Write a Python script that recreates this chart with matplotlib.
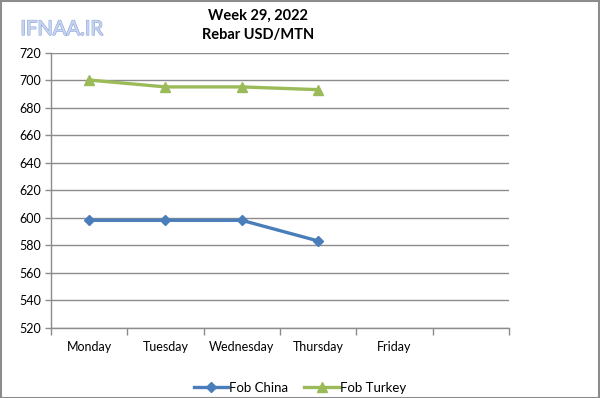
import numpy as np
import matplotlib
matplotlib.use("Agg")
import matplotlib.pyplot as plt
import matplotlib.patheffects as pe

# chart data
days = ["Monday", "Tuesday", "Wednesday", "Thursday", "Friday", ""]
fob_china = [598, 598, 598, 583]
fob_turkey = [700, 695, 695, 693]
y_ticks = list(range(520, 721, 20))

plt.rcParams['font.family'] = ['Lato', 'DejaVu Sans']

fig = plt.figure(figsize=(6, 3.98), dpi=100)
ax = fig.add_axes([0.085, 0.177, 0.763, 0.691])

x = np.arange(len(fob_china))
ax.plot(x, fob_china, color='#4A7EBB', linewidth=2.4, marker='D', markersize=5,
        label='Fob China', zorder=3)
ax.plot(x, fob_turkey, color='#9BBB59', linewidth=2.4, marker='^', markersize=7,
        label='Fob Turkey', zorder=3)

ax.set_xlim(-0.5, len(days) - 0.5)
ax.set_ylim(520, 720)
ax.set_yticks(y_ticks)
ax.set_yticklabels([str(v) for v in y_ticks], fontsize=9)
ax.yaxis.grid(True, color='#8C8C8C', linewidth=1)
ax.set_axisbelow(True)

# category labels centered, tick marks between categories
ax.set_xticks(np.arange(len(days)))
ax.set_xticklabels(days, fontsize=9)
ax.tick_params(axis='x', length=0, pad=10)
ax.set_xticks(np.arange(len(days) + 1) - 0.5, minor=True)
ax.tick_params(axis='x', which='minor', length=5, color='#8C8C8C', width=1)
ax.tick_params(axis='y', length=4, color='#8C8C8C', width=1, pad=3)

for s in ['top', 'right']:
    ax.spines[s].set_visible(False)
for s in ['left', 'bottom']:
    ax.spines[s].set_color('#8C8C8C')
    ax.spines[s].set_linewidth(1)

fig.text(0.43, 0.96, "Week 29, 2022", ha='center', va='center', fontsize=10.5,
         fontweight='bold')
fig.text(0.43, 0.913, "Rebar USD/MTN", ha='center', va='center', fontsize=10.5,
         fontweight='bold')

wm = fig.text(0.034, 0.926, "IFNAA.IR", ha='left', va='center', fontsize=14.5,
              color='#C5D3F0')
wm.set_path_effects([pe.withStroke(linewidth=0.9, foreground='#86A0D6'), pe.Normal()])

fig.legend(loc='center', bbox_to_anchor=(0.5, 0.026), ncol=2, frameon=False,
           fontsize=9.5, handlelength=2.6, handletextpad=0.1, columnspacing=1.2)

# outer border
fig.patches.append(plt.Rectangle((0.001, 0.001), 0.997, 0.997, transform=fig.transFigure,
                                 fill=False, edgecolor='#8C8C8C', linewidth=1.5))

fig.savefig('out.png', dpi=100)
